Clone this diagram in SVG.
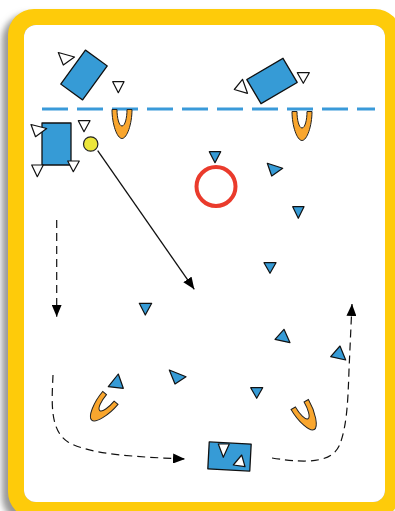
<svg xmlns="http://www.w3.org/2000/svg" width="395" height="511" viewBox="0 0 395 511">
<defs>
<style>
.pl{fill:#369bd6;stroke:#111;stroke-width:1.3;stroke-linejoin:round}
.wt{fill:#fff;stroke:#111;stroke-width:1.2;stroke-linejoin:round}
.bt{fill:#369bd6;stroke:#111;stroke-width:1.2;stroke-linejoin:round}
.cn{fill:#f9a62e;stroke:#222;stroke-width:1}
.ln{fill:none;stroke:#111;stroke-width:1.3}
.dl{fill:none;stroke:#111;stroke-width:1.2;stroke-dasharray:8 5}
</style>
<marker id="ah" viewBox="0 0 12 10" refX="12" refY="5" markerWidth="12" markerHeight="10" markerUnits="userSpaceOnUse" orient="auto">
<path d="M0,0 L12,5 L0,10 Z" fill="#000"/>
</marker>
<path id="cone" d="M-10,-14.5 L-5,-14.5 C-5,-6 -3,2 0,2 C3,2 5,-6 5,-14.5 L10,-14.5 C10,0 5,14.5 0,14.5 C-5,14.5 -10,0 -10,-14.5 Z"/>
<filter id="sh" x="-10%" y="-10%" width="120%" height="120%">
<feGaussianBlur stdDeviation="3"/>
</filter>
</defs>
<rect width="395" height="511" fill="#fff"/>
<g id="frame">
<rect x="2" y="14" width="393" height="509" rx="26" fill="#999" filter="url(#sh)"/>
<path fill="#fecb0a" fill-rule="evenodd" d="M34,9 H375 A26,26 0 0 1 401,35 V492 A26,26 0 0 1 375,518 H34 A26,26 0 0 1 8,492 V35 A26,26 0 0 1 34,9 Z M36,25 H373 A12,12 0 0 1 385,37 V490 A12,12 0 0 1 373,502 H36 A12,12 0 0 1 24,490 V37 A12,12 0 0 1 36,25 Z"/>
<path fill="#fff" d="M36,25 H373 A12,12 0 0 1 385,37 V490 A12,12 0 0 1 373,502 H36 A12,12 0 0 1 24,490 V37 A12,12 0 0 1 36,25 Z"/>
</g>
<g id="line">
<line x1="42" y1="109" x2="375" y2="109" stroke="#3a9ad9" stroke-width="3.2" stroke-dasharray="26 9"/>
</g>
<g id="cones">
<use href="#cone" class="cn" transform="translate(122,124)"/>
<use href="#cone" class="cn" transform="translate(302,126)"/>
<use href="#cone" class="cn" transform="translate(101,409) rotate(40)"/>
<use href="#cone" class="cn" transform="translate(307,417) rotate(-30)"/>
</g>
<g id="goal">
<circle cx="216" cy="186.5" r="19.5" fill="none" stroke="#ea3b2c" stroke-width="4"/>
</g>
<g id="player-tl">
<rect x="70.5" y="54" width="27" height="42" class="pl" transform="rotate(36 84 75)"/>
<polygon class="wt" points="58.3,52.5 74.5,57 63.3,65"/>
<polygon class="wt" points="112.7,81.7 124,81.7 118.3,92.7"/>
</g>
<g id="player-l">
<rect x="42" y="123" width="29" height="42" class="pl"/>
<polygon class="wt" points="31,124.5 46.7,128.5 35.5,136.7"/>
<polygon class="wt" points="31.7,165 43.3,165 37.3,176.7"/>
<polygon class="wt" points="67.7,161 79.3,161 73.3,171.7"/>
<polygon class="wt" points="78.3,120.7 90,120.7 84,131.7"/>
</g>
<g id="player-tr">
<rect x="251" y="67" width="42" height="28" class="pl" transform="rotate(-30.5 272 81)"/>
<polygon class="wt" points="242.5,79.3 247.5,93.3 234.3,89.5"/>
<polygon class="wt" points="297.3,72.7 309.3,72.7 303.3,83.3"/>
</g>
<g id="player-b">
<rect x="208.5" y="443" width="42" height="27" class="pl" transform="rotate(3 229.5 456.5)"/>
<polygon class="wt" points="218.3,444 229.3,444 223.3,457.3"/>
<polygon class="wt" points="233.3,465 245,466.7 241.7,455"/>
</g>
<g id="ball">
<circle cx="90.7" cy="144" r="7.2" fill="#ece63a" stroke="#222" stroke-width="1.2"/>
</g>
<g id="markers">
<polygon class="bt" points="209.3,151.7 220.7,151.7 215,162.7"/>
<polygon class="bt" points="267.3,163.3 282.7,168.3 271.7,176"/>
<polygon class="bt" points="292.7,206.7 304,206.7 298.3,218.3"/>
<polygon class="bt" points="264,262.7 276,262.7 270,273.3"/>
<polygon class="bt" points="139.3,303.3 151.7,303.3 145.3,315"/>
<polygon class="bt" points="108.3,386.7 123.3,388.3 118.3,374"/>
<polygon class="bt" points="169.3,370 186,376.7 175,384"/>
<polygon class="bt" points="275,339.3 290,342.7 284,329.3"/>
<polygon class="bt" points="330.7,356.7 345.7,360 340,346"/>
<polygon class="bt" points="250.7,387.7 262.7,387.7 256.7,398.3"/>
</g>
<g id="connectors">
<line class="ln" x1="97.7" y1="150.7" x2="194.3" y2="289.3" marker-end="url(#ah)"/>
<path class="dl" d="M56.7,220 V316.7" marker-end="url(#ah)"/>
<path class="dl" d="M53,375 C52,400 49,430 68,442 C90,455 140,457 185,459" marker-end="url(#ah)"/>
<path class="dl" d="M272,458 C310,464 333,462 340,444 C347,425 348,400 349,370 L352,304" marker-end="url(#ah)"/>
</g>
</svg>
